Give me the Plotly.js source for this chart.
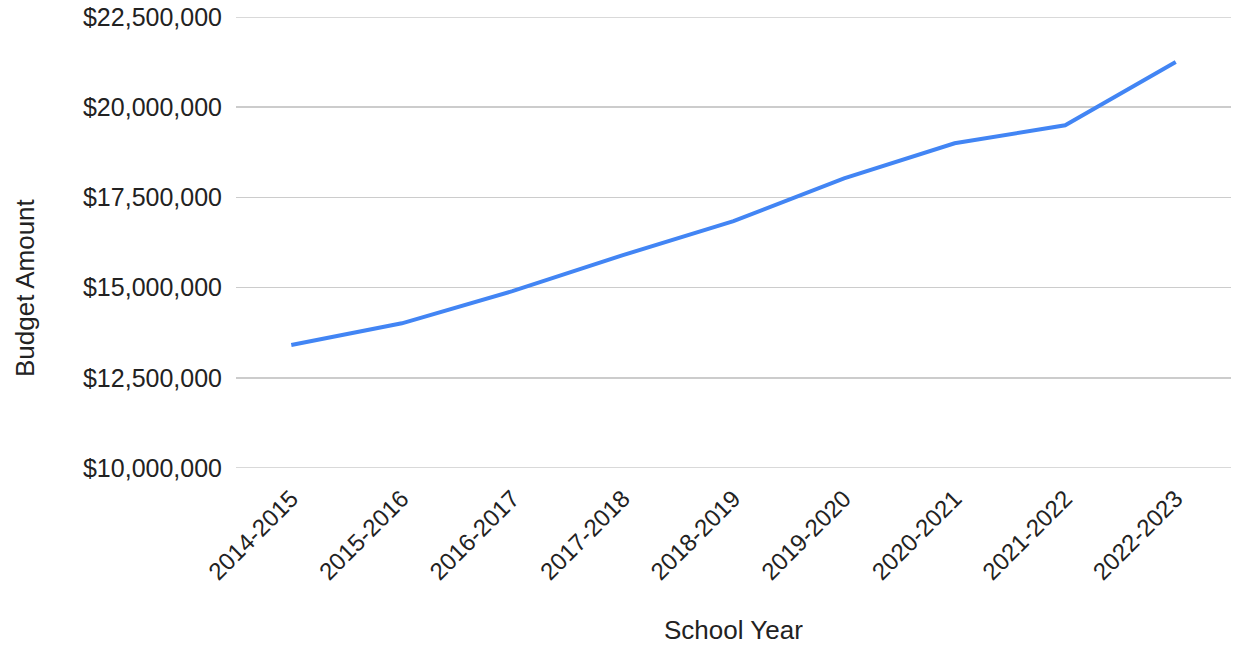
<!DOCTYPE html>
<html>
<head>
<meta charset="utf-8">
<script src="https://cdn.plot.ly/plotly-3.0.1.min.js"></script>
<style>html,body{margin:0;padding:0;background:#fff;}#chart{width:1234px;height:646px;}</style>
</head>
<body>
<div id="chart"></div>
<script>
var schoolYears = ["2014-2015","2015-2016","2016-2017","2017-2018","2018-2019","2019-2020","2020-2021","2021-2022","2022-2023"];
var budgetAmounts = [13410000, 14010000, 14900000, 15900000, 16840000, 18030000, 19000000, 19500000, 21250000];
var yTickValues = [10000000, 12500000, 15000000, 17500000, 20000000, 22500000];
var xTitle = "School Year";
var yTitle = "Budget Amount";

var fontFam = "Liberation Sans, Arial, sans-serif";
var yMin = yTickValues[0], yMax = yTickValues[yTickValues.length - 1];

var edgeLines = [yMin, yMax].map(function (v) {
  return {type: "line", xref: "paper", x0: 0, x1: 1, yref: "y", y0: v, y1: v,
          line: {color: "#cccccc", width: 1.5}, layer: "below"};
});

Plotly.newPlot("chart", [{
  x: schoolYears,
  y: budgetAmounts,
  type: "scatter",
  mode: "lines",
  line: {color: "#4285F4", width: 4},
  hoverinfo: "x+y"
}], {
  width: 1234, height: 646,
  margin: {l: 236, r: 3, t: 17, b: 178},
  paper_bgcolor: "#fff", plot_bgcolor: "#fff",
  showlegend: false,
  font: {family: fontFam, color: "#222", size: 25},
  shapes: edgeLines,
  annotations: [
    {text: xTitle, xref: "paper", yref: "paper", x: 0.5, y: 0, xanchor: "center", yanchor: "middle",
     yshift: -162, height: 26, valign: "middle", showarrow: false, font: {size: 26, color: "#222", family: fontFam}},
    {text: yTitle, xref: "paper", yref: "paper", x: 0, y: 0, xanchor: "center", yanchor: "middle",
     xshift: -211, yshift: 180, textangle: -90, showarrow: false, font: {size: 26, color: "#222", family: fontFam}}
  ],
  xaxis: {
    type: "category",
    range: [-0.5, 8.5],
    tickangle: -45,
    ticks: "outside", ticklen: 6, tickcolor: "rgba(0,0,0,0)",
    showgrid: false, showline: false, zeroline: false,
    tickfont: {size: 24, color: "#222", family: fontFam}
  },
  yaxis: {
    range: [yMin, yMax],
    tickvals: yTickValues,
    tickformat: "$,.0f",
    ticks: "outside", ticklen: 8, tickcolor: "rgba(0,0,0,0)",
    showgrid: true, gridcolor: "#cccccc", gridwidth: 1.5,
    zeroline: false, showline: false,
    tickfont: {size: 25, color: "#222", family: fontFam}
  }
}, {displayModeBar: false, staticPlot: true});
</script>
</body>
</html>
